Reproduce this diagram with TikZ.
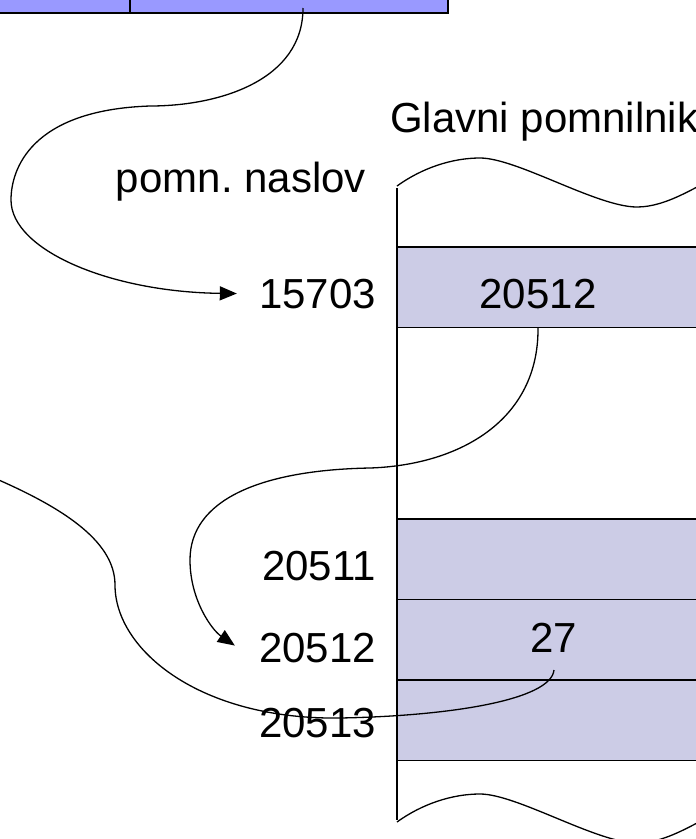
\documentclass[tikz,border=0pt]{standalone}
\usepackage{fontspec}
\setmainfont{Liberation Sans}
\usetikzlibrary{positioning, arrows.meta, calc}
\definecolor{ptrfill}{HTML}{9999FF}
\definecolor{memfill}{HTML}{CCCCE6}

\begin{document}
\begin{tikzpicture}[
    x=1pt, y=-1pt,
    txt/.style={font=\fontsize{42}{50}\selectfont, inner sep=0pt},
    memcell/.style={rectangle, draw=black, line width=1.6pt, fill=memfill, minimum width=340pt, minimum height=80.5pt, anchor=north west, outer sep=0pt, inner sep=0pt},
    ptrcell/.style={rectangle, draw=black, line width=1.6pt, fill=ptrfill, minimum height=40pt, anchor=south west, outer sep=0pt, inner sep=0pt},
    link/.style={line width=1.3pt},
    tip/.style={-{Triangle[length=17pt, width=14pt]}},
]
\useasboundingbox (0,0) rectangle (696,839);
\clip (0,0) rectangle (696,839);

% pointer variable
\node[ptrcell, minimum width=150pt] (p0) at (-20,13) {};
\node[ptrcell, minimum width=318pt, right=0pt of p0] (p1) {};

% main memory
\node[memcell] (m1) at (397,247) {};
\node[memcell] (m2) at (397,519) {};
\node[memcell, below=0pt of m2] (m3) {};
\node[memcell, below=0pt of m3] (m4) {};
\draw[line width=1.6pt] (397,188) -- (397,820);
\foreach \y in {186, 822} {
  \draw[link, shift={(397,\y)}] (0,0) .. controls (25,-18) and (55,-28) .. (83,-28)
    .. controls (120,-28) and (200,21) .. (240,21)
    .. controls (270,21) and (300,0) .. (330,-15);
}

\node[txt, anchor=base west] (title) at (390,132) {Glavni pomnilnik};
\node[txt, anchor=base east] (addrhead) at (366,192) {pomn.\ naslov};
\node[txt, anchor=base east] (a1) at (376,308) {15703};
\node[txt, anchor=base east] (a2) at (376,580) {20511};
\node[txt, anchor=base east] (a3) at (376,662) {20512};
\node[txt, anchor=base east] (a4) at (376,737) {20513};
\node[txt, anchor=base] (v1) at (538,308) {20512};
\node[txt, anchor=base] (v3) at (554,652) {27};

% pointers
\draw[link, tip] ($(p1.south)+(14,-5)$) .. controls (303,80) and (220,106) .. (150,106)
  .. controls (30,110) and (11,170) .. (11,200)
  .. controls (11,250) and (110,292) .. ($(a1.west)+(-22,0)$);
\draw[link, tip] (v1 |- m1.south) .. controls (539,420) and (460,465) .. (370,468)
  .. controls (260,470) and (190,500) .. (190,560)
  .. controls (190,600) and (212,630) .. ($(a3.west)+(-24,-2)$);
\coordinate (far) at (-20,472);
\draw[link] ($(v3.base)+(0,18)$) .. controls (551,700) and (450,716) .. (340,718)
  .. controls (200,720) and (115,650) .. (115,585)
  .. controls (115,540) and (60,505) .. (far);
\end{tikzpicture}
\end{document}
